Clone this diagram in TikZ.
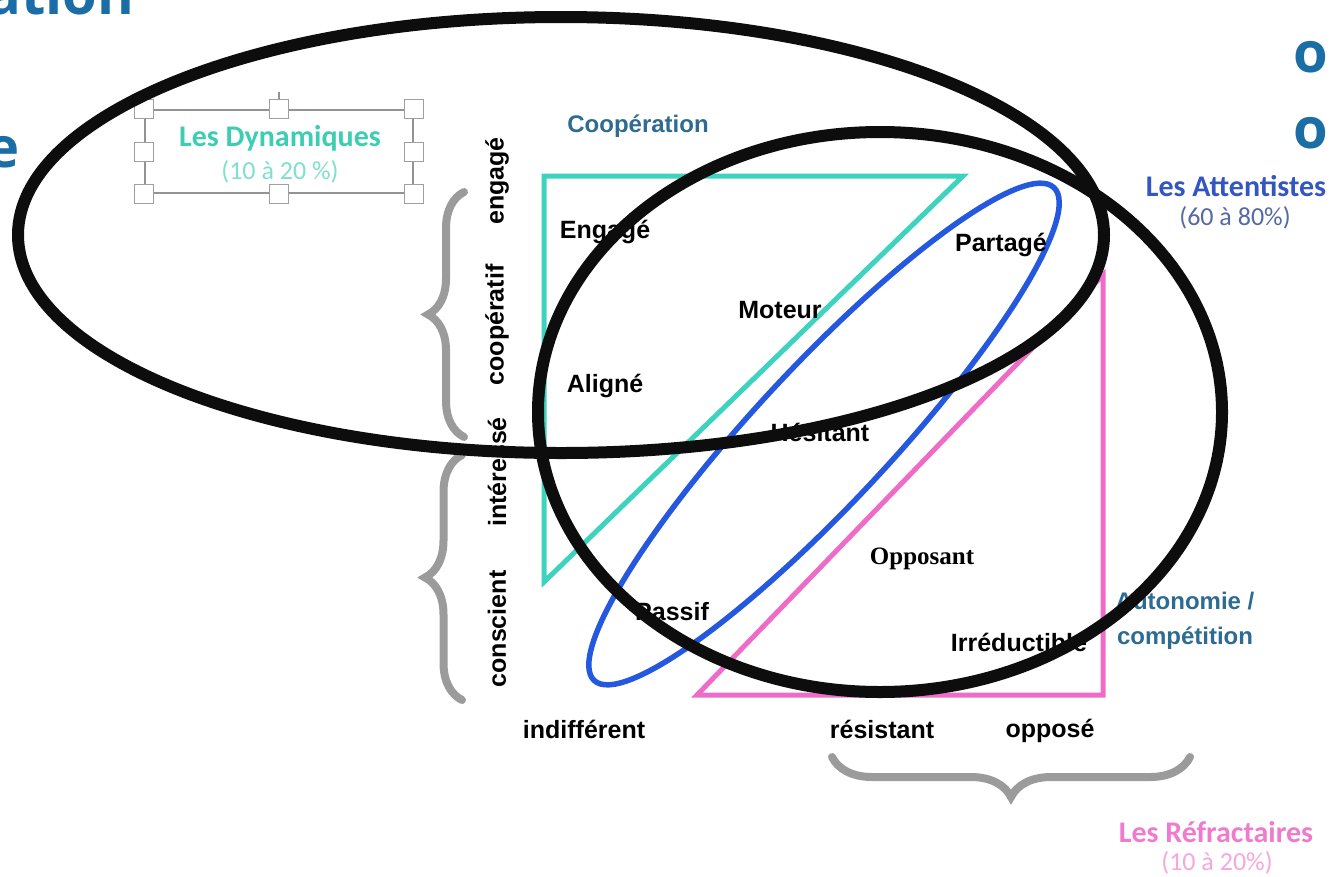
\documentclass[tikz,border=0pt]{standalone}
\usepackage{fontspec}
\setmainfont{Liberation Sans}
\newfontfamily\serifface{Liberation Serif}
\newfontfamily\groupface{Carlito}
\newfontfamily\titleface{Open Sans}
\usetikzlibrary{decorations.pathreplacing}

\definecolor{titleblue}{HTML}{1B6DA6}
\definecolor{slate}{HTML}{2D6B92}
\definecolor{coopteal}{HTML}{3DD3BE}
\definecolor{dynteal}{HTML}{3CCDB2}
\definecolor{refpink}{HTML}{EE6CC8}
\definecolor{attblue}{HTML}{2458DE}
\definecolor{attgroup}{HTML}{3356C0}
\definecolor{bracegray}{HTML}{9B9B9B}

\tikzset{
  titre/.style={font=\titleface\fontsize{56}{60}\selectfont\bfseries, text=titleblue, inner sep=0pt},
  zone/.style={font=\fontsize{25}{30}\selectfont\bfseries, inner sep=0pt},
  axe/.style={zone, rotate=90},
  pole/.style={font=\fontsize{24}{28}\selectfont\bfseries, text=slate, inner sep=0pt},
  groupe/.style={font=\groupface\fontsize{30}{34}\selectfont\bfseries, inner sep=0pt},
  pct/.style={font=\groupface\fontsize{26}{30}\selectfont, inner sep=0pt},
  coopline/.style={draw=coopteal, line width=5pt, line join=miter},
  refline/.style={draw=refpink, line width=5pt, line join=miter},
  attline/.style={draw=attblue, line width=5.5pt},
  cerne/.style={draw=black!95, line width=12pt},
  accolade/.style={decorate, decoration={brace, amplitude=#1}, draw=bracegray, line width=8pt, line cap=round},
  accolade/.default=36pt,
  cadre/.style={draw=gray!85, line width=1.2pt, inner sep=0pt},
  poignee/.style={draw=gray!75, fill=white, line width=1pt, minimum size=19pt, inner sep=0pt}
}

\begin{document}
\begin{tikzpicture}[x=1pt,y=-1pt]
  \useasboundingbox (0,0) rectangle (1332,876);

  % bouts du titre de la diapo
  \node[titre, anchor=base west] (tA) at (-13,14) {ation};
  \node[titre, anchor=base east] (tE) at (20,167) {e};
  \node[titre, anchor=base west] (tO1) at (1293,72) {o};
  \node[titre, anchor=base west] (tO2) at (1293,148) {o};

  % triangles
  \coordinate (cA) at (544,176);
  \coordinate (cB) at (963,176);
  \coordinate (cC) at (544,582);
  \draw[coopline] (cA) -- (cB) -- (cC) -- cycle;
  \coordinate (rA) at (697,695);
  \coordinate (rB) at (1103,695);
  \coordinate (rC) at (1103,275);
  \draw[refline] (rA) -- (rB) -- (rC) -- cycle;

  % ellipse des attentistes
  \coordinate (att) at (824,434);
  \draw[attline, rotate around={47:(att)}] (att) ellipse [x radius=337pt, y radius=68pt];

  % libelles
  \node[pole] (coop) at (638,126) {Coopération};
  \node[zone] (engage) at (605,232) {Engagé};
  \node[zone] (partage) at (1001,245) {Partagé};
  \node[zone] (moteur) at (780,310) {Moteur};
  \node[zone] (aligne) at (605,386) {Aligné};
  \node[zone] (hesitant) at (820,432) {Hésitant};
  \node[zone, font=\serifface\fontsize{25}{30}\selectfont\bfseries] (opposant) at (922,559) {Opposant};
  \node[zone] (passif) at (672,612) {Passif};
  \node[zone] (irreduc) at (1019,642) {Irréductible};
  \node[pole] (autonomie) at (1185,601) {Autonomie /};
  \node[pole] (competition) at (1185,638) {compétition};

  \node[zone] (indiff) at (584,729) {indifférent};
  \node[zone] (resist) at (882,729) {résistant};
  \node[zone] (oppose) at (1050,731) {opposé};

  \node[axe] (aEngage) at (497,181) {engagé};
  \node[axe] (aCoop) at (497,325) {coopératif};
  \node[axe] (aInter) at (497,472) {intéressé};
  \node[axe] (aConsc) at (497,629) {conscient};

  % accolades
  \coordinate (b1t) at (464,192);
  \coordinate (b1b) at (464,437);
  \coordinate (b2t) at (462,455);
  \coordinate (b2b) at (462,700);
  \coordinate (b3l) at (832,757);
  \coordinate (b3r) at (1190,757);
  \draw[accolade] (b1b) -- (b1t);
  \draw[accolade=37pt] (b2b) -- (b2t);
  \draw[accolade=40pt] (b3r) -- (b3l);

  % groupes
  \node[groupe, text=attgroup] (attent) at (1236,186) {Les Attentistes};
  \node[pct, text=attgroup!55!gray] (attpct) at (1235,218) {(60 à 80\%)};
  \node[groupe, text=refpink!90!white] (refract) at (1216,832) {Les Réfractaires};
  \node[pct, text=refpink!60!white] (refpct) at (1217,863) {(10 à 20\%)};

  % boite de selection
  \node[cadre, minimum width=268pt, minimum height=83pt] (dynbox) at (279,151.5) {};
  \coordinate (rot) at (279,92);
  \draw[cadre] (rot) -- (dynbox.north);
  \foreach \a in {north west,north,north east,west,east,south west,south,south east}
    \node[poignee] at (dynbox.\a) {};
  \node[groupe, text=dynteal] (dyn) at (280,138) {Les Dynamiques};
  \node[pct, text=dynteal!65!white] (dynpct) at (280,172) {(10 à 20 \%)};

  % cernes noirs
  \coordinate (e1) at (561,235);
  \coordinate (e2) at (880,412);
  \draw[cerne] (e1) ellipse [x radius=543pt, y radius=218pt];
  \draw[cerne] (e2) ellipse [x radius=342pt, y radius=280pt];
\end{tikzpicture}
\end{document}
